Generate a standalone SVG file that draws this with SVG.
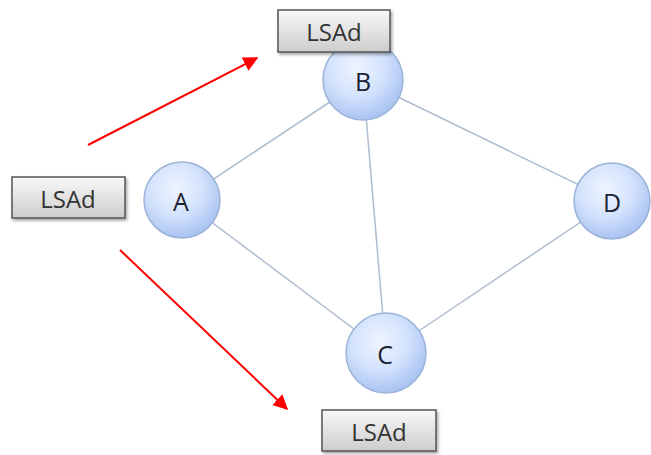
<svg xmlns="http://www.w3.org/2000/svg" width="651" height="455" viewBox="0 0 651 455">
  <defs>
    <radialGradient id="nodeFill" cx="42%" cy="35%" r="65%">
      <stop offset="0" stop-color="#eef4ff"/>
      <stop offset="0.55" stop-color="#d3e2fc"/>
      <stop offset="1" stop-color="#a9c3f2"/>
    </radialGradient>
    <linearGradient id="boxFill" x1="0" y1="0" x2="0" y2="1">
      <stop offset="0" stop-color="#f8f8f8"/>
      <stop offset="1" stop-color="#cdcdcd"/>
    </linearGradient>
    <marker id="redArrow" viewBox="0 0 10 10" refX="9" refY="5" markerWidth="15" markerHeight="15" orient="auto" markerUnits="userSpaceOnUse">
      <path d="M0,0 L10,5 L0,10 z" fill="#ff0000"/>
    </marker>
    <filter id="shadow" x="-10%" y="-10%" width="130%" height="140%">
      <feDropShadow dx="1.5" dy="2" stdDeviation="1.5" flood-color="#000" flood-opacity="0.35"/>
    </filter>
  </defs>
  <style>
    .edge { stroke: #aebdcf; stroke-width: 1.5; fill: none; }
    .flow { stroke: #ff0000; stroke-width: 2; fill: none; marker-end: url(#redArrow); }
    .node circle { fill: url(#nodeFill); stroke: #9db4da; stroke-width: 1.5; }
    .node text { font-family: "Open Sans", "Liberation Sans", sans-serif; font-size: 25px; font-weight: 500; fill: #1a2233; text-anchor: middle; dominant-baseline: central; }
    .lsa rect { fill: url(#boxFill); stroke: #555; stroke-width: 1.5; filter: url(#shadow); }
    .lsa text { font-family: "Open Sans", "Liberation Sans", sans-serif; font-size: 24px; fill: #333; text-anchor: middle; dominant-baseline: central; }
  </style>
  <rect width="651" height="455" fill="#fff"/>

  <g id="connectors">
    <line class="edge" x1="182" y1="200" x2="363" y2="80"/>
    <line class="edge" x1="363" y1="80" x2="612" y2="201"/>
    <line class="edge" x1="363" y1="80" x2="386" y2="353"/>
    <line class="edge" x1="182" y1="200" x2="386" y2="353"/>
    <line class="edge" x1="386" y1="353" x2="612" y2="201"/>
    <line class="flow" x1="88" y1="145" x2="257" y2="58"/>
    <line class="flow" x1="120" y1="250" x2="287" y2="409"/>
  </g>

  <g id="node-A" class="node"><circle cx="182" cy="200" r="38"/><text x="181" y="201">A</text></g>
  <g id="node-B" class="node"><circle cx="363" cy="80" r="40"/><text x="363" y="81">B</text></g>
  <g id="node-C" class="node"><circle cx="386" cy="353" r="40"/><text x="385" y="354">C</text></g>
  <g id="node-D" class="node"><circle cx="612" cy="201" r="38"/><text x="612" y="202">D</text></g>

  <g id="lsa-top" class="lsa"><rect x="278" y="10" width="112" height="42"/><text x="334" y="31">LSAd</text></g>
  <g id="lsa-left" class="lsa"><rect x="12" y="177" width="113" height="41"/><text x="68" y="198">LSAd</text></g>
  <g id="lsa-bottom" class="lsa"><rect x="322" y="410" width="114" height="41"/><text x="379" y="431">LSAd</text></g>
</svg>
